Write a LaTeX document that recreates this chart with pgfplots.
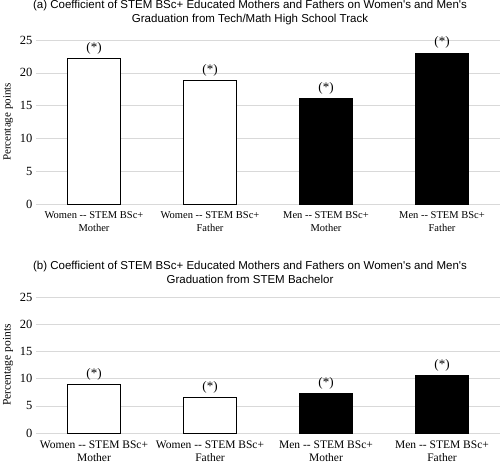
\documentclass[border=0pt]{standalone}
\usepackage{fontspec}
\setmainfont{Liberation Serif}
\newfontfamily\arialf{Liberation Sans}
\usepackage{pgfplots}
\pgfplotsset{compat=1.18}
\definecolor{gridgray}{HTML}{D9D9D9}
\pgfplotsset{
  mybar/.style={
    ybar, bar width=53pt, scale only axis, width=464pt,
    xmin=-0.5, xmax=3.5, ymin=0, ymax=25,
    ytick={0,5,...,25},
    xtick={0,1,2,3},
    xticklabels={{Women -{}- STEM BSc+\\Mother},{Women -{}- STEM BSc+\\Father},{Men -{}- STEM BSc+\\Mother},{Men -{}- STEM BSc+\\Father}},
    ymajorgrids, grid style={draw=gridgray, line width=0.6pt},
    axis x line*=bottom, axis y line*=left,
    y axis line style={draw=none},
    x axis line style={draw=gridgray, line width=0.8pt},
    ytick style={draw=none}, xtick style={draw=none},
    ylabel={Percentage points},
    /pgf/number format/assume math mode=true,
    yticklabel style={font=\fontsize{12.5}{14}\selectfont},
    nodes near coords={(*)},
    every node near coord/.append style={font=\fontsize{13}{15}\selectfont, inner sep=2pt, yshift=2pt},
    clip=false,
  }
}
\begin{document}
\begin{tikzpicture}[x=1pt,y=1pt]
\path[use as bounding box] (0pt,0pt) rectangle (500pt,464pt);
\node[align=center, font=\arialf\fontsize{11.5}{14}\selectfont] at (250pt,451pt) {(a) Coefficient of STEM BSc+ Educated Mothers and Fathers on Women's and Men's\\Graduation from Tech/Math High School Track};
\begin{axis}[mybar, at={(36pt,260pt)}, anchor=south west, height=164pt,
  xticklabel style={align=center, font=\fontsize{10.5}{12.5}\selectfont},
  ylabel style={font=\fontsize{11}{13}\selectfont}]
\addplot[draw=black, fill=white, line width=0.9pt, bar shift=0pt] coordinates {(0,22.2) (1,18.85)};
\addplot[draw=black, fill=black, line width=0.9pt, bar shift=0pt] coordinates {(2,16.1) (3,23.0)};
\end{axis}
\node[align=center, font=\arialf\fontsize{11.5}{14}\selectfont] at (250pt,191.5pt) {(b) Coefficient of STEM BSc+ Educated Mothers and Fathers on Women's and Men's\\Graduation from STEM Bachelor};
\begin{axis}[mybar, at={(36pt,31pt)}, anchor=south west, height=136pt,
  xticklabel style={align=center, font=\fontsize{11.5}{13.5}\selectfont},
  ylabel style={font=\fontsize{11.5}{13}\selectfont},
  extra x ticks={-0.5,0.5,1.5,2.5,3.5}, extra x tick labels={},
  extra x tick style={grid=none, tick style={draw=gridgray, line width=0.8pt}, major tick length=5pt, tick align=outside}]
\addplot[draw=black, fill=white, line width=0.9pt, bar shift=0pt] coordinates {(0,8.88) (1,6.56)};
\addplot[draw=black, fill=black, line width=0.9pt, bar shift=0pt] coordinates {(2,7.23) (3,10.54)};
\end{axis}
\end{tikzpicture}
\end{document}
